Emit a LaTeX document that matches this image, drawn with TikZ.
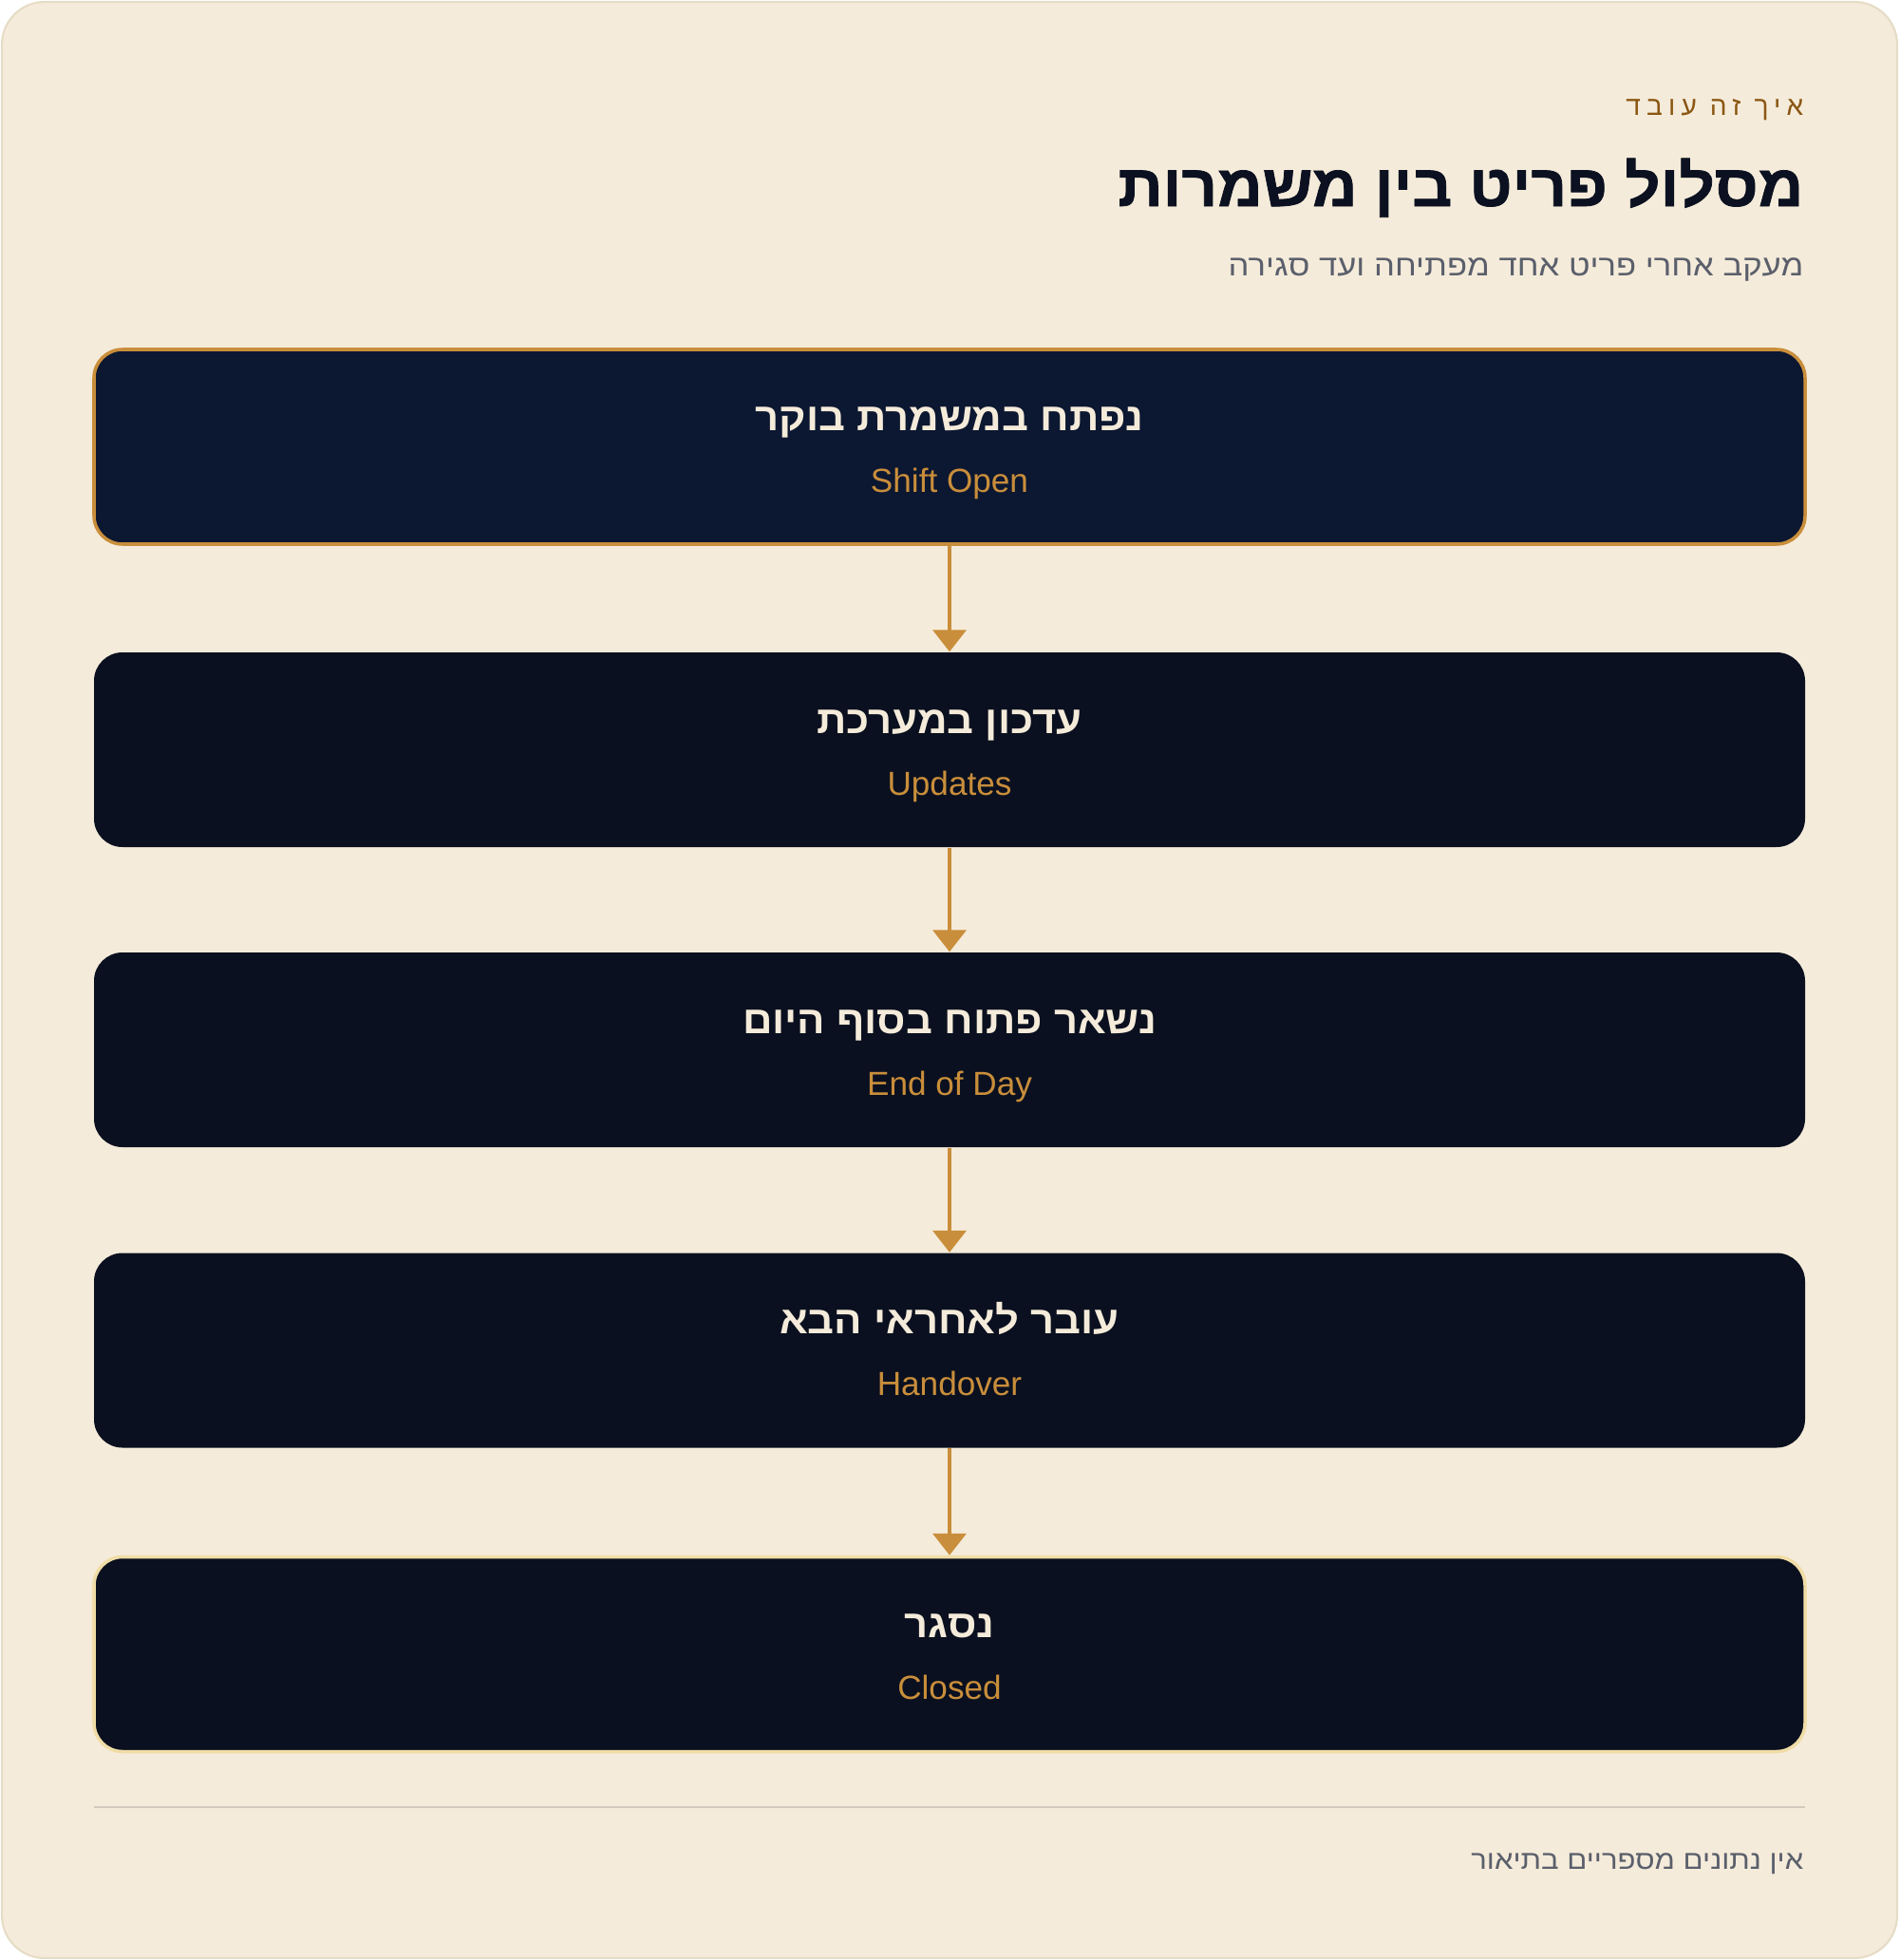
\documentclass[tikz,border=0pt]{standalone}
\usepackage{fontspec}
\setmainfont{Liberation Sans}
\newfontfamily\hebfont[Script=Hebrew,FakeStretch=1.12]{Liberation Sans}
\newfontfamily\hebbold[Script=Hebrew,FakeStretch=1.07]{Liberation Sans Bold}
\newfontfamily\hebheavy[Script=Hebrew,FakeStretch=1.06,FakeBold=1.2]{Liberation Sans Bold}
\newfontfamily\eyefont[Script=Hebrew,LetterSpace=22]{Liberation Sans}
\TeXXeTstate=1
\usetikzlibrary{arrows.meta, positioning}

\definecolor{paper}{HTML}{F5EBDA}
\definecolor{frame}{HTML}{E6DCC6}
\definecolor{navy}{HTML}{0C1731}
\definecolor{boxdark}{HTML}{0A101F}
\definecolor{gold}{HTML}{C98E3B}
\definecolor{palegold}{HTML}{F0DCA6}
\definecolor{eyebrow}{HTML}{8A5612}
\definecolor{ink}{HTML}{0B1120}
\definecolor{slate}{HTML}{5A5F6B}
\definecolor{cream}{HTML}{F5EBDA}
\definecolor{rule}{HTML}{D2CABD}

\tikzset{
  stepbox/.style={rectangle, rounded corners=0.3cm, minimum width=18.02cm, minimum height=2.05cm, fill=boxdark, inner sep=0pt},
  hebtitle/.style={anchor=base, inner sep=0pt, text=cream, font=\hebbold\fontsize{11.6}{14}\selectfont},
  entitle/.style={anchor=base, inner sep=0pt, text=gold, font=\fontsize{10}{12}\selectfont},
  flow/.style={draw=gold, line width=1.1pt, -{Triangle[width=0.35cm,length=0.23cm]}},
}

\begin{document}
\begin{tikzpicture}
\useasboundingbox (0,0) rectangle (20,-20.64);
\draw[fill=paper, draw=frame, line width=0.6pt, rounded corners=0.45cm] (0.02,-0.02) rectangle (19.98,-20.62);

% heading
\node[anchor=base east, inner sep=0pt, text=eyebrow, font=\eyefont\fontsize{8}{10}\selectfont] (kicker) at (19.00,-1.22) {\beginR איך זה עובד\endR};
\node[anchor=base east, inner sep=0pt, text=ink, font=\hebheavy\fontsize{17.6}{20}\selectfont] (title) at (19.00,-2.17) {\beginR מסלול פריט בין משמרות\endR};
\node[anchor=base east, inner sep=0pt, text=slate, font=\hebfont\fontsize{8.8}{11}\selectfont] (subtitle) at (19.00,-2.90) {\beginR מעקב אחרי פריט אחד מפתיחה ועד סגירה\endR};

% steps
\node[stepbox, fill=navy, draw=gold, line width=1pt] (open) at (10,-4.705) {};
\node[hebtitle] (openhe) at ([yshift=0.175cm]open.center) {\beginR נפתח במשמרת בוקר\endR};
\node[entitle] (openen) at ([yshift=-0.475cm]open.center) {Shift Open};

\node[stepbox] (update) at (10,-7.895) {};
\node[hebtitle] (updatehe) at ([yshift=0.175cm]update.center) {\beginR עדכון במערכת\endR};
\node[entitle] (updateen) at ([yshift=-0.475cm]update.center) {Updates};

\node[stepbox] (eod) at (10,-11.055) {};
\node[hebtitle] (eodhe) at ([yshift=0.175cm]eod.center) {\beginR נשאר פתוח בסוף היום\endR};
\node[entitle] (eoden) at ([yshift=-0.475cm]eod.center) {End of Day};

\node[stepbox] (handover) at (10,-14.22) {};
\node[hebtitle] (handoverhe) at ([yshift=0.175cm]handover.center) {\beginR עובר לאחראי הבא\endR};
\node[entitle] (handoveren) at ([yshift=-0.475cm]handover.center) {Handover};

\node[stepbox, draw=palegold, line width=1pt] (closed) at (10,-17.42) {};
\node[hebtitle] (closedhe) at ([yshift=0.175cm]closed.center) {\beginR נסגר\endR};
\node[entitle] (closeden) at ([yshift=-0.475cm]closed.center) {Closed};

% arrows
\draw[flow] (open) -- (update);
\draw[flow] (update) -- (eod);
\draw[flow] (eod) -- (handover);
\draw[flow] (handover) -- (closed);

% footer
\draw[rule, line width=0.6pt] (0.99,-19.03) -- (19.01,-19.03);
\node[anchor=base east, inner sep=0pt, text=slate, font=\hebfont\fontsize{7.9}{10}\selectfont] (note) at (19.00,-19.68) {\beginR אין נתונים מספריים בתיאור\endR};
\end{tikzpicture}
\end{document}
